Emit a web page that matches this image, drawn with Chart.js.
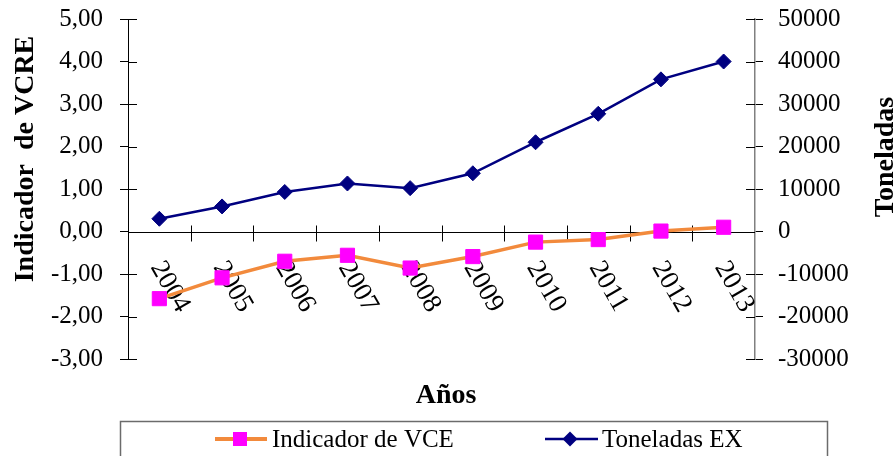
<!DOCTYPE html>
<html>
<head>
<meta charset="utf-8">
<script src="https://cdn.jsdelivr.net/npm/chart.js@4"></script>
<style>
  html, body { margin: 0; padding: 0; background: #ffffff; }
  #wrap { width: 896px; height: 456px; }
</style>
</head>
<body>
<div id="wrap"><canvas id="vceChart" width="896" height="456"></canvas></div>
<script>
// chart data
const years = ["2004", "2005", "2006", "2007", "2008", "2009", "2010", "2011", "2012", "2013"];
const vceValues = [-1.58, -1.09, -0.70, -0.56, -0.86, -0.59, -0.25, -0.19, 0.01, 0.10];
const toneladasValues = [3000, 5900, 9300, 11300, 10200, 13700, 21000, 27700, 35800, 40000];

const vceLabel = "Indicador de VCE";
const toneladasLabel = "Toneladas EX";

const FONT = '"Liberation Serif", "Times New Roman", serif';
const ORANGE = "#F28A3C";
const PINK = "#FF00FF";
const NAVY = "#000080";

// zero line, year labels, inner tick halves, titles and legend box
const excelLookPlugin = {
  id: "excelLook",
  beforeDatasetsDraw(chart) {
    const { ctx, chartArea, scales } = chart;
    const x = scales.x;
    const y = scales.y;
    const y1 = scales.y1;
    const y0 = Math.round(y.getPixelForValue(0)) + 0.5;

    ctx.save();
    ctx.strokeStyle = "#000000";
    ctx.lineWidth = 1;

    // category axis on 0
    ctx.beginPath();
    ctx.moveTo(chartArea.left, y0);
    ctx.lineTo(chartArea.right, y0);
    ctx.stroke();

    for (let i = 1; i < years.length; i++) {
      const bx = Math.round((x.getPixelForValue(i - 1) + x.getPixelForValue(i)) / 2) + 0.5;
      ctx.beginPath();
      ctx.moveTo(bx, y0 - 7);
      ctx.lineTo(bx, y0 + 9);
      ctx.stroke();
    }

    // tick marks cross the value axes
    y.ticks.forEach((t, i) => {
      const py = Math.round(y.getPixelForTick(i)) + 0.5;
      ctx.beginPath();
      ctx.moveTo(chartArea.left, py);
      ctx.lineTo(chartArea.left + 9, py);
      ctx.stroke();
    });
    y1.ticks.forEach((t, i) => {
      const py = Math.round(y1.getPixelForTick(i)) + 0.5;
      ctx.beginPath();
      ctx.moveTo(chartArea.right - 9, py);
      ctx.lineTo(chartArea.right, py);
      ctx.stroke();
    });

    // rotated year labels
    ctx.fillStyle = "#000000";
    ctx.font = "27px " + FONT;
    ctx.textAlign = "left";
    ctx.textBaseline = "middle";
    years.forEach((yr, i) => {
      const px = x.getPixelForValue(i);
      ctx.save();
      ctx.translate(px - 3, y0 + 31);
      ctx.rotate(Math.PI / 3);
      ctx.fillText(yr, 0, 0);
      ctx.restore();
    });
    ctx.restore();
  },
  afterDraw(chart) {
    const { ctx } = chart;
    ctx.save();
    ctx.fillStyle = "#000000";
    ctx.font = "bold 28px " + FONT;
    ctx.textAlign = "center";
    ctx.textBaseline = "alphabetic";

    // axis titles
    ctx.save();
    ctx.translate(33, 159);
    ctx.rotate(-Math.PI / 2);
    ctx.fillText("Indicador  de VCRE", 0, 0);
    ctx.restore();

    ctx.save();
    ctx.translate(893, 157);
    ctx.rotate(-Math.PI / 2);
    ctx.fillText("Toneladas", 0, 0);
    ctx.restore();

    ctx.fillText("Años", 446, 403);

    // legend
    ctx.strokeStyle = "#6b6b6b";
    ctx.lineWidth = 1.5;
    ctx.strokeRect(120.5, 421.5, 707, 60);

    const ly = 439;
    ctx.strokeStyle = ORANGE;
    ctx.lineWidth = 4;
    ctx.beginPath();
    ctx.moveTo(215, ly);
    ctx.lineTo(267, ly);
    ctx.stroke();
    ctx.fillStyle = PINK;
    ctx.fillRect(233, ly - 7, 14, 14);

    ctx.strokeStyle = NAVY;
    ctx.lineWidth = 2.5;
    ctx.beginPath();
    ctx.moveTo(545, ly);
    ctx.lineTo(598, ly);
    ctx.stroke();
    ctx.fillStyle = NAVY;
    ctx.beginPath();
    ctx.moveTo(570, ly - 7.5);
    ctx.lineTo(577.5, ly);
    ctx.lineTo(570, ly + 7.5);
    ctx.lineTo(562.5, ly);
    ctx.closePath();
    ctx.fill();

    ctx.fillStyle = "#000000";
    ctx.font = "25px " + FONT;
    ctx.textAlign = "left";
    ctx.fillText(vceLabel, 272, 447);
    ctx.fillText(toneladasLabel, 602, 447);
    ctx.restore();
  }
};

// fixed axis widths, no extra label padding so the plot box is exact
function fitAxis(width) {
  return (scale) => {
    scale.width = width;
    scale.paddingTop = 0;
    scale.paddingBottom = 0;
  };
}

function renderChart() {
  const ctx = document.getElementById("vceChart").getContext("2d");

  new Chart(ctx, {
    type: "line",
    data: {
      labels: years,
      datasets: [
        {
          label: vceLabel,
          data: vceValues,
          yAxisID: "y",
          borderColor: ORANGE,
          borderWidth: 3.5,
          tension: 0,
          pointStyle: "rect",
          pointRadius: 10,
          pointBackgroundColor: PINK,
          pointBorderColor: PINK,
          pointBorderWidth: 1
        },
        {
          label: toneladasLabel,
          data: toneladasValues,
          yAxisID: "y1",
          borderColor: NAVY,
          borderWidth: 2.5,
          tension: 0,
          pointStyle: "rectRot",
          pointRadius: 7.5,
          pointBackgroundColor: NAVY,
          pointBorderColor: NAVY,
          pointBorderWidth: 1
        }
      ]
    },
    options: {
      responsive: false,
      animation: false,
      layout: {
        padding: { top: 19, bottom: 97, left: 0, right: 0 }
      },
      plugins: {
        legend: { display: false },
        tooltip: { enabled: false }
      },
      scales: {
        x: {
          display: false,
          offset: true
        },
        y: {
          position: "left",
          min: -3,
          max: 5,
          afterFit: fitAxis(128),
          ticks: {
            stepSize: 1,
            padding: 17,
            color: "#000000",
            font: { family: FONT, size: 25 },
            callback: (v) => v.toFixed(2).replace(".", ",")
          },
          grid: {
            drawOnChartArea: false,
            drawTicks: true,
            tickLength: 8,
            color: "#000000"
          },
          border: { display: true, color: "#000000", width: 1 }
        },
        y1: {
          position: "right",
          min: -30000,
          max: 50000,
          afterFit: fitAxis(141),
          ticks: {
            stepSize: 10000,
            padding: 15,
            color: "#000000",
            font: { family: FONT, size: 25 },
            callback: (v) => String(v)
          },
          grid: {
            drawOnChartArea: false,
            drawTicks: true,
            tickLength: 8,
            color: "#000000"
          },
          border: { display: true, color: "#808080", width: 1.5 }
        }
      }
    },
    plugins: [excelLookPlugin]
  });
}

renderChart();
</script>
</body>
</html>
